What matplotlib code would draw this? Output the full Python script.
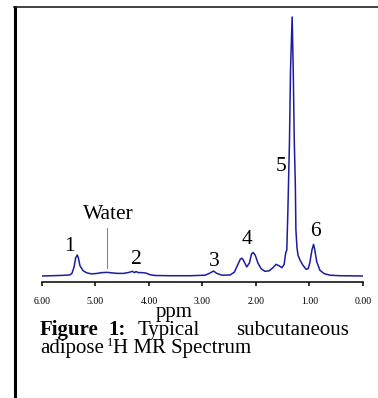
import matplotlib
matplotlib.use("Agg")
import matplotlib.pyplot as plt
from matplotlib.lines import Line2D

plt.rcParams['font.family'] = ['Liberation Serif', 'DejaVu Serif']

# Spectrum samples: chemical shift (ppm) and intensity (% of max)
ppm = [6.00, 5.66, 5.48, 5.44, 5.40, 5.37, 5.34, 5.32, 5.29, 5.23, 5.16, 5.07, 4.97,
       4.88, 4.78, 4.69, 4.58, 4.47, 4.37, 4.31, 4.27, 4.24, 4.20, 4.13, 4.05, 3.98,
       3.89, 3.60, 3.23, 2.95, 2.87, 2.79, 2.73, 2.63, 2.48, 2.40, 2.35, 2.29, 2.26,
       2.23, 2.17, 2.12, 2.08, 2.05, 2.01, 1.96, 1.90, 1.83, 1.75, 1.68, 1.62, 1.57,
       1.51, 1.47, 1.44, 1.42, 1.40, 1.37, 1.35, 1.32, 1.30, 1.28, 1.26, 1.25, 1.23,
       1.21, 1.17, 1.12, 1.06, 1.02, 0.99, 0.95, 0.92, 0.90, 0.86, 0.80, 0.72, 0.61,
       0.42, 0.00]
intensity = [0.0, 0.2, 0.4, 1.0, 3.5, 7.0, 8.1, 7.0, 4.0, 2.0, 1.2, 0.8, 1.0,
             1.3, 1.4, 1.2, 1.0, 1.0, 1.4, 1.8, 1.3, 1.7, 1.3, 1.3, 1.1, 0.5,
             0.2, 0.1, 0.1, 0.3, 1.0, 1.9, 1.0, 0.3, 0.4, 1.5, 3.8, 6.5, 6.9,
             6.0, 3.5, 5.0, 8.5, 9.1, 8.0, 5.0, 2.8, 1.8, 2.0, 3.2, 4.5, 4.0,
             3.2, 4.5, 9.0, 10.0, 25.0, 52.0, 80.0, 100.0, 80.0, 52.0, 35.0, 18.0, 11.0,
             8.0, 6.0, 4.2, 2.6, 2.8, 5.0, 10.0, 12.2, 10.5, 5.5, 2.2, 0.9, 0.3,
             0.1, 0.0]

tick_values = [6, 5, 4, 3, 2, 1, 0]
tick_labels = ["6.00", "5.00", "4.00", "3.00", "2.00", "1.00", "0.00"]

peak_labels = ["1", "2", "3", "4", "5", "6"]
peak_label_ppm = [5.49, 4.23, 2.78, 2.17, 1.53, 0.89]
peak_label_int = [11.3, 6.2, 5.5, 13.9, 42.2, 17.1]

W, H = 378, 398
fig = plt.figure(figsize=(W / 100, H / 100), dpi=100)

def fx(px):
    return px / W

def fy(py):
    return 1 - py / H

FS = 15.5
CS = 15

ax = fig.add_axes([fx(42), fy(282), fx(362.7) - fx(42), fy(10) - fy(282)])
ax.plot(ppm, intensity, color='#1c1ca0', lw=1.1)
ax.set_xlim(6, 0)
ax.set_ylim(-2.32, 102.7)
for s in ['left', 'top', 'right']:
    ax.spines[s].set_visible(False)
ax.spines['bottom'].set_linewidth(1.1)
ax.set_yticks([])
ax.set_xticks(tick_values)
ax.set_xticklabels(tick_labels, fontsize=7)
ax.tick_params(axis='x', direction='out', length=3, width=1.1, pad=8)

for lab, xp, yi in zip(peak_labels, peak_label_ppm, peak_label_int):
    ax.text(xp, yi, lab, fontsize=FS, ha='center', va='center')

ax.text(4.75, 23.6, "Water", fontsize=FS, ha='center', va='center')
ax.plot([4.78, 4.78], [3.0, 18.4], color='#888888', lw=0.8)

fig.text(fx(174), fy(317), "ppm", fontsize=CS, ha='center', va='baseline')

fig.text(fx(40), fy(335), "Figure", fontsize=CS, fontweight='bold', ha='left', va='baseline')
fig.text(fx(108), fy(335), "1:", fontsize=CS, fontweight='bold', ha='left', va='baseline')
fig.text(fx(138), fy(335), "Typical", fontsize=CS, ha='left', va='baseline')
fig.text(fx(293), fy(335), "subcutaneous", fontsize=CS, ha='center', va='baseline')
fig.text(fx(40), fy(353), "adipose", fontsize=CS, ha='left', va='baseline')
fig.text(fx(106.5), fy(345.5), "1", fontsize=9, ha='left', va='baseline')
fig.text(fx(113), fy(353), "H MR Spectrum", fontsize=CS, ha='left', va='baseline')

fig.add_artist(Line2D([fx(14.5), fx(14.5)], [fy(6.5), 0], color='black', lw=2.2,
                      transform=fig.transFigure))
fig.add_artist(Line2D([fx(13.5), 1], [fy(6.5), fy(6.5)], color='#222222', lw=1.2,
                      transform=fig.transFigure))

fig.savefig("out.png", dpi=100)
